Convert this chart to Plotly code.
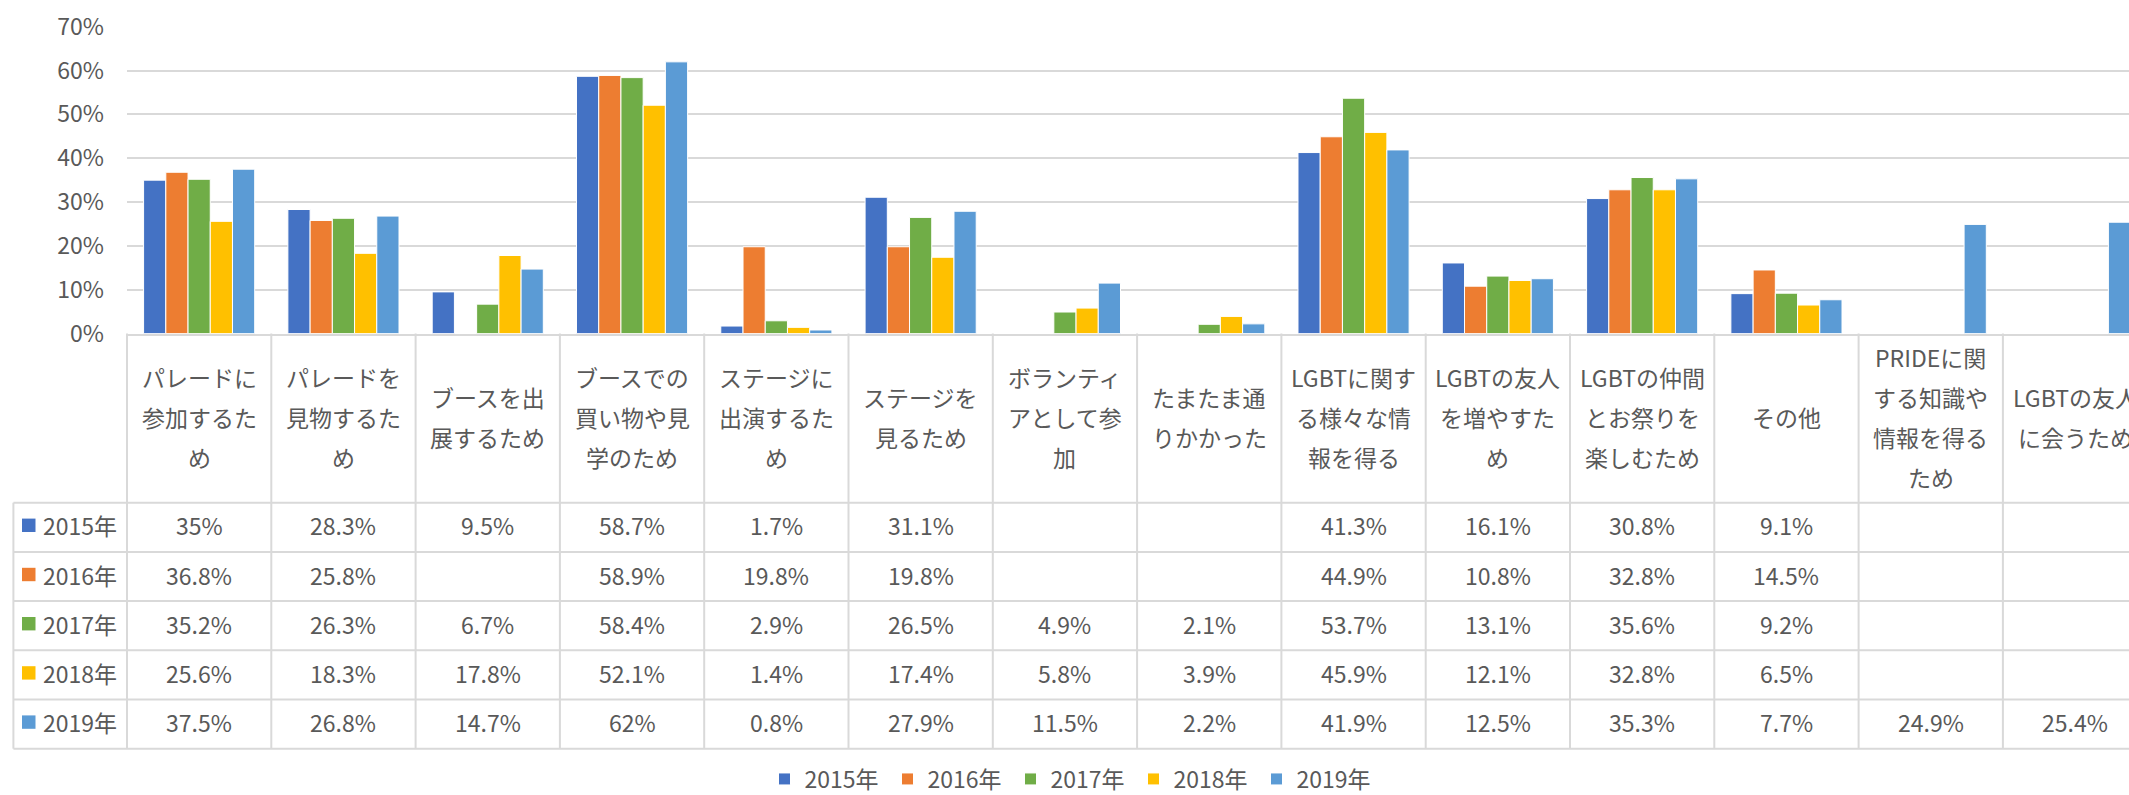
import plotly.graph_objects as go

# ---------------- data ----------------
categories = [
    "パレードに参加するため", "パレードを見物するため", "ブースを出展するため",
    "ブースでの買い物や見学のため", "ステージに出演するため", "ステージを見るため",
    "ボランティアとして参加", "たまたま通りかかった", "LGBTに関する様々な情報を得る",
    "LGBTの友人を増やすため", "LGBTの仲間とお祭りを楽しむため", "その他",
    "PRIDEに関する知識や情報を得るため", "LGBTの友人に会うため",
]
category_label_lines = [
    ["パレードに", "参加するた", "め"],
    ["パレードを", "見物するた", "め"],
    ["ブースを出", "展するため"],
    ["ブースでの", "買い物や見", "学のため"],
    ["ステージに", "出演するた", "め"],
    ["ステージを", "見るため"],
    ["ボランティ", "アとして参", "加"],
    ["たまたま通", "りかかった"],
    ["LGBTに関す", "る様々な情", "報を得る"],
    ["LGBTの友人", "を増やすた", "め"],
    ["LGBTの仲間", "とお祭りを", "楽しむため"],
    ["その他"],
    ["PRIDEに関", "する知識や", "情報を得る", "ため"],
    ["LGBTの友人", "に会うため"],
]
years = ["2015年", "2016年", "2017年", "2018年", "2019年"]

v2015 = [35, 28.3, 9.5, 58.7, 1.7, 31.1, None, None, 41.3, 16.1, 30.8, 9.1, None, None]
v2016 = [36.8, 25.8, None, 58.9, 19.8, 19.8, None, None, 44.9, 10.8, 32.8, 14.5, None, None]
v2017 = [35.2, 26.3, 6.7, 58.4, 2.9, 26.5, 4.9, 2.1, 53.7, 13.1, 35.6, 9.2, None, None]
v2018 = [25.6, 18.3, 17.8, 52.1, 1.4, 17.4, 5.8, 3.9, 45.9, 12.1, 32.8, 6.5, None, None]
v2019 = [37.5, 26.8, 14.7, 62, 0.8, 27.9, 11.5, 2.2, 41.9, 12.5, 35.3, 7.7, 24.9, 25.4]
series_values = [v2015, v2016, v2017, v2018, v2019]

colors = ["#4472C4", "#ED7D31", "#70AD47", "#FFC000", "#5B9BD5"]
y_ticks = [0, 0.1, 0.2, 0.3, 0.4, 0.5, 0.6, 0.7]

# ---------------- layout helpers ----------------
W, H = 2129, 795
FONT = "Noto Sans CJK JP"
GRAY = "#595959"
LINE = "#D9D9D9"
FS = 23


def px(x):
    return x / W


def py(y):
    return 1 - y / H


plot_left = 127.0
cat_w = 144.3
x_right = -0.5 + (W - plot_left) / cat_w
y_zero_px, y_top_px = 333.5, 26.8
header_mid = 417.0
line_gap = 40.0
row_lines = [502.7, 551.9, 601.1, 650.3, 699.5, 748.7]

x_idx = list(range(len(categories)))

fig = go.Figure()
for name, vals, col in zip(years, series_values, colors):
    fig.add_trace(go.Bar(
        x=x_idx,
        y=[None if v is None else v / 100 for v in vals],
        name=name,
        marker=dict(color=col, line=dict(color="white", width=1)),
        hovertext=categories,
    ))

shapes = []
annotations = []

# vertical table lines
shapes.append(dict(type="line", xref="paper", yref="paper",
                   x0=px(plot_left), x1=px(plot_left),
                   y0=py(y_zero_px), y1=py(row_lines[-1]),
                   line=dict(color=LINE, width=2)))
for k in range(1, len(categories) + 1):
    shapes.append(dict(type="line", xref="x", yref="paper",
                       x0=k - 0.5, x1=k - 0.5,
                       y0=py(y_zero_px), y1=py(row_lines[-1]),
                       line=dict(color=LINE, width=2)))
# left border of row-label column
shapes.append(dict(type="line", xref="paper", yref="paper",
                   x0=px(13.4), x1=px(13.4),
                   y0=py(row_lines[0]), y1=py(row_lines[-1]),
                   line=dict(color=LINE, width=2)))
# horizontal table lines
for yl in row_lines:
    shapes.append(dict(type="line", xref="paper", yref="paper",
                       x0=px(13.4), x1=1.0, y0=py(yl), y1=py(yl),
                       line=dict(color=LINE, width=2)))

# header labels
for i, lines in enumerate(category_label_lines):
    n = len(lines)
    for j, ln in enumerate(lines):
        yp = header_mid + (j - (n - 1) / 2) * line_gap
        annotations.append(dict(x=i, xref="x", y=py(yp), yref="paper",
                                text=ln, showarrow=False,
                                xanchor="center", yanchor="middle",
                                font=dict(family=FONT, size=FS, color=GRAY)))

# data table cells + row labels
for r, (name, vals, col) in enumerate(zip(years, series_values, colors)):
    yc = (row_lines[r] + row_lines[r + 1]) / 2 - 2
    shapes.append(dict(type="rect", xref="paper", yref="paper",
                       x0=px(22), x1=px(35.5), y0=py(yc + 6.7), y1=py(yc - 6.7),
                       fillcolor=col, line=dict(width=0)))
    annotations.append(dict(x=px(41), xref="paper", y=py(yc), yref="paper",
                            text=name, showarrow=False,
                            xanchor="left", yanchor="middle",
                            font=dict(family=FONT, size=FS, color=GRAY)))
    for i, v in enumerate(vals):
        if v is None:
            continue
        annotations.append(dict(x=i, xref="x", y=py(yc), yref="paper",
                                text=f"{v:g}%", showarrow=False,
                                xanchor="center", yanchor="middle",
                                font=dict(family=FONT, size=FS, color=GRAY)))

fig.update_layout(
    width=W, height=H,
    margin=dict(l=0, r=0, t=0, b=0, autoexpand=False),
    paper_bgcolor="white", plot_bgcolor="white",
    barmode="group", bargap=0.23, bargroupgap=0,
    font=dict(family=FONT, size=FS, color=GRAY),
    xaxis=dict(domain=[px(plot_left), 1.0], range=[-0.5, x_right],
               showticklabels=False, showgrid=False, zeroline=False,
               showline=True, linecolor=LINE, linewidth=2, ticks="",
               fixedrange=True),
    yaxis=dict(domain=[py(y_zero_px), py(y_top_px)], range=[0, 0.7],
               tickvals=y_ticks, tickformat=".0%",
               showgrid=True, gridcolor=LINE, gridwidth=2,
               zeroline=False, showline=False, ticks="",
               ticklabelstandoff=22,
               tickfont=dict(family=FONT, size=FS, color=GRAY)),
    legend=dict(orientation="h", x=px(1072), xanchor="center",
                y=py(779), yanchor="middle",
                entrywidth=78, entrywidthmode="pixels",
                font=dict(family=FONT, size=FS, color=GRAY),
                traceorder="normal", bgcolor="rgba(0,0,0,0)"),
    shapes=shapes,
    annotations=annotations,
    showlegend=True,
)

fig.write_html("out.html",
               config={"displayModeBar": False},
               post_script="document.body.style.margin='0';document.body.style.overflow='hidden';")
